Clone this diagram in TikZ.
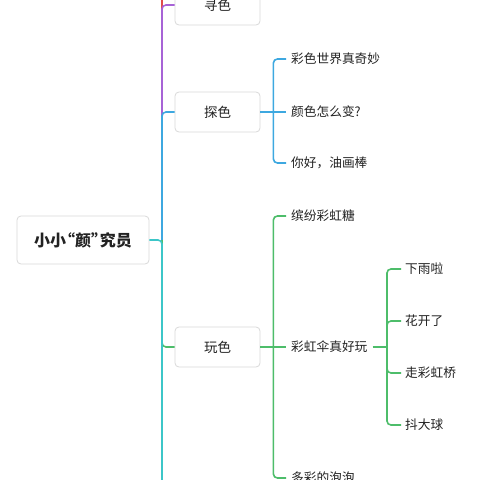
\documentclass[tikz,border=0pt]{standalone}
\usepackage{fontspec}
\setmainfont{Noto Sans CJK SC}
\usetikzlibrary{calc}
\definecolor{txt}{HTML}{222222}
\definecolor{boxline}{HTML}{D9D9D9}
\definecolor{cred}{HTML}{E24B4B}
\definecolor{cpurple}{HTML}{A763D6}
\definecolor{cblue}{HTML}{3DA8E0}
\definecolor{cgreen}{HTML}{4DBD6A}
\definecolor{cteal}{HTML}{3CC6C8}

\begin{document}
\begin{tikzpicture}[x=1pt, y=-1pt,
        every node/.style={text=txt},
        rootbox/.style={rectangle, rounded corners=4pt, draw=boxline, line width=0.8pt,
          fill=white, minimum width=132pt, minimum height=48pt,
          font=\fontsize{16}{16}\selectfont\bfseries},
        topic/.style={rectangle, rounded corners=4pt, draw=boxline, line width=0.8pt,
          fill=white, minimum width=85pt, minimum height=40pt,
          font=\fontsize{13.5}{13.5}\selectfont},
        leaf/.style={anchor=west, inner sep=0pt, font=\fontsize{12.7}{12.7}\selectfont},
        conn/.style={line width=1.6pt, rounded corners=4pt}]
      \useasboundingbox (0,0) rectangle (480,480);
      \fill[white] (0,0) rectangle (480,480);
      \clip (0,0) rectangle (480,480);
      % main topics
      \node[rootbox] (root) at (83,240) {小小\kern-0.45em“颜”\kern-0.45em究员};
      \node[topic] (xun) at (217.5,5) {寻色};
      \node[topic] (tan) at (217.5,112) {探色};
      \node[topic] (wan) at (217.5,347) {玩色};
      \coordinate (hub) at (162,240);
      \coordinate (up) at (162,-20);
      \coordinate (down) at (162,500);
      % 探色
      \node[leaf] (t1) at (291,59) {彩色世界真奇妙};
      \node[leaf] (t2) at (291,112) {颜色怎么变?};
      \node[leaf] (t3) at (291,163) {你好，油画棒};
      % 玩色
      \node[leaf] (w1) at (291,216) {缤纷彩虹糖};
      \node[leaf] (w2) at (291,347) {彩虹伞真好玩};
      \node[leaf] (w3) at (291,478) {多彩的泡泡};
      % 彩虹伞真好玩
      \node[leaf] (r1) at (405,269) {下雨啦};
      \node[leaf] (r2) at (405,321) {花开了};
      \node[leaf] (r3) at (405,373) {走彩虹桥};
      \node[leaf] (r4) at (405,425) {抖大球};
      % trunk
      \draw[conn, cred] (hub) -- (up);
      \draw[conn, cpurple] (hub) |- (xun.west);
      \draw[conn, cblue] (hub) |- (tan.west);
      \draw[conn, cgreen] (hub) |- (wan.west);
      \draw[conn, cteal] (root.east) -- (hub) -- (down);
      % branches
      \coordinate (tb) at ($(tan.east)+(13,0)$);
      \draw[conn, cblue] (tan.east) -- ([xshift=-5pt]t2.west);
      \draw[conn, cblue] (tb) |- ([xshift=-5pt]t1.west);
      \draw[conn, cblue] (tb) |- ([xshift=-5pt]t3.west);
      \coordinate (wb) at ($(wan.east)+(13,0)$);
      \draw[conn, cgreen] (wan.east) -- ([xshift=-5pt]w2.west);
      \draw[conn, cgreen] (wb) |- ([xshift=-5pt]w1.west);
      \draw[conn, cgreen] (wb) |- ([xshift=-5pt]w3.west);
      \coordinate (rb) at (387,347);
      \draw[conn, cgreen] ([xshift=5pt]w2.east) -- (rb);
      \foreach \r in {r1,r2,r3,r4}
        \draw[conn, cgreen] (rb) |- ([xshift=-4pt]\r.west);
    \end{tikzpicture}
\end{document}
